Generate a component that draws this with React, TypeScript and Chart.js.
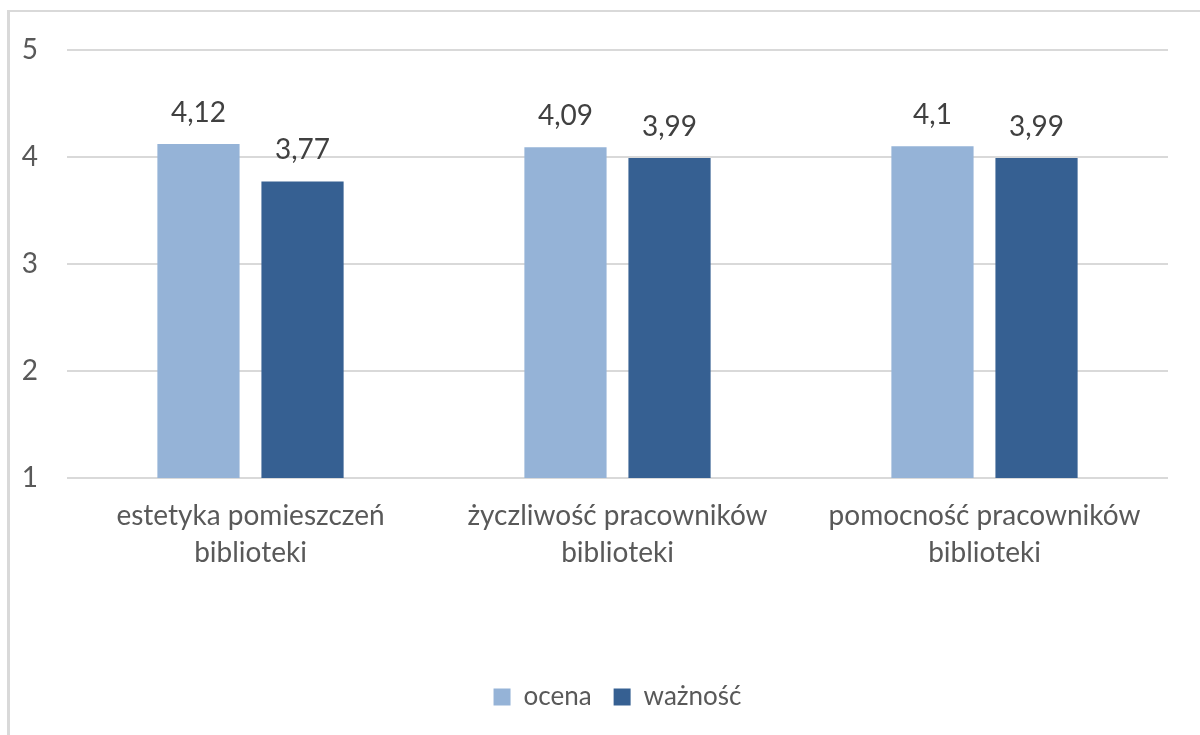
import React, { useEffect, useRef } from "react";
import { Chart, registerables } from "chart.js";

Chart.register(...registerables);

const categories: string[][] = [
  ["estetyka pomieszczeń", "biblioteki"],
  ["życzliwość pracowników", "biblioteki"],
  ["pomocność pracowników", "biblioteki"],
];
const ocena: number[] = [4.12, 4.09, 4.1];
const waznosc: number[] = [3.77, 3.99, 3.99];
const yTicks: number[] = [1, 2, 3, 4, 5];

const FONT = "Lato, 'Open Sans', sans-serif";
const TEXT = "#595959";
const SIZE = 28;

// Writes each bar's value above it, with a decimal comma.
const valueLabels = {
  id: "valueLabels",
  afterDatasetsDraw(chart: any) {
    const ctx = chart.ctx;
    ctx.save();
    ctx.font = `${SIZE}px ${FONT}`;
    ctx.fillStyle = "#404040";
    ctx.textAlign = "center";
    ctx.textBaseline = "alphabetic";
    chart.data.datasets.forEach((ds: any, i: number) => {
      const meta = chart.getDatasetMeta(i);
      meta.data.forEach((bar: any, j: number) => {
        const text = String(ds.data[j]).replace(".", ",");
        ctx.fillText(text, bar.x, bar.y - 22);
      });
    });
    ctx.restore();
  },
};

export default function App() {
  const ref = useRef<HTMLCanvasElement | null>(null);

  useEffect(() => {
    if (!ref.current) return;
    const chart = new Chart(ref.current, {
      type: "bar",
      data: {
        labels: categories,
        datasets: [
          {
            label: "ocena",
            data: ocena,
            backgroundColor: "#95B3D7",
            barPercentage: 0.79,
            categoryPercentage: 0.567,
          },
          {
            label: "ważność",
            data: waznosc,
            backgroundColor: "#366092",
            barPercentage: 0.79,
            categoryPercentage: 0.567,
          },
        ],
      },
      options: {
        animation: false,
        responsive: false,
        maintainAspectRatio: false,
        layout: { padding: { left: 0, right: 32, top: 22, bottom: 15 } },
        plugins: {
          tooltip: { enabled: false },
          legend: {
            position: "bottom",
            fullSize: false,
            labels: {
              boxWidth: 17,
              boxHeight: 17,
              padding: 22,
              color: TEXT,
              font: { family: FONT, size: 26 },
            },
          },
        },
        scales: {
          x: {
            grid: { display: false },
            border: { display: false },
            ticks: {
              color: TEXT,
              padding: 12,
              maxRotation: 0,
              autoSkip: false,
              font: { family: FONT, size: SIZE, lineHeight: 1.3 },
            },
            afterFit(scale: any) {
              scale.height = 184;
            },
          },
          y: {
            min: 1,
            max: 5,
            afterBuildTicks(scale: any) {
              scale.ticks = yTicks.map((v) => ({ value: v }));
            },
            grid: { color: "#D9D9D9", lineWidth: 2, drawTicks: false },
            border: { display: false },
            ticks: {
              color: TEXT,
              padding: 29,
              font: { family: FONT, size: SIZE },
            },
            afterFit(scale: any) {
              scale.width = 57;
            },
          },
        },
      },
      plugins: [valueLabels],
    });
    return () => chart.destroy();
  }, []);

  return (
    <div
      style={{
        position: "absolute",
        left: 7,
        top: 10,
        width: 1400,
        height: 900,
        borderLeft: "3px solid #D9D9D9",
        borderTop: "2px solid #D9D9D9",
        background: "#fff",
      }}
    >
      <canvas
        ref={ref}
        width={1190}
        height={731}
        style={{ display: "block", position: "absolute", left: 0, top: -8 }}
      />
    </div>
  );
}
